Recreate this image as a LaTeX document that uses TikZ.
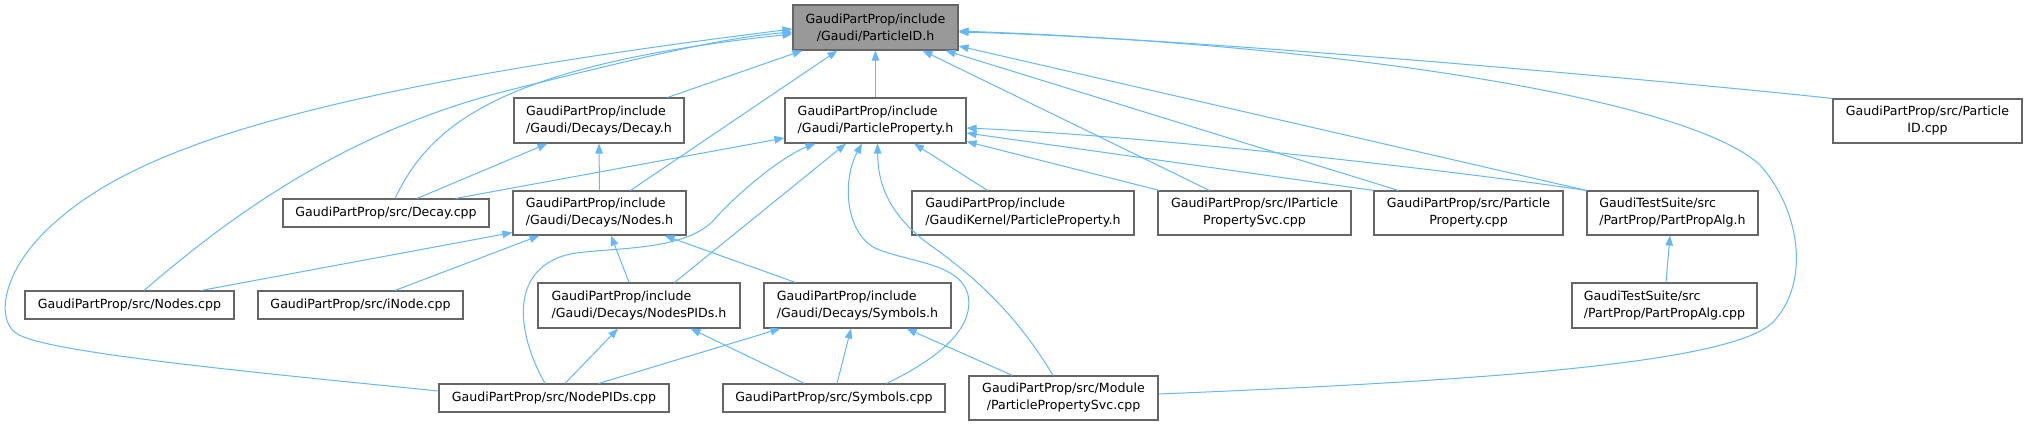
\documentclass[tikz,border=0pt]{standalone}
\usepackage{fontspec}
\setmainfont{DejaVu Sans}
\usetikzlibrary{arrows.meta}
\definecolor{edgec}{HTML}{63B8FF}
\definecolor{boxborder}{HTML}{666666}
\definecolor{rootfill}{HTML}{999999}
\begin{document}
\begin{tikzpicture}[x=1pt,y=-1pt,
  box/.style={draw=boxborder, line width=1.1pt, fill=white, inner sep=0pt, text=black,
    font=\fontsize{12.6}{17}\selectfont},
  root/.style={box, fill=rootfill},
  edge/.style={draw=edgec, line width=1pt, -{Triangle[length=10pt,width=7.5pt]}}]
\useasboundingbox[fill=white] (0,0) rectangle (2027,426);
% nodes
\node[root,align=center,minimum width=165pt,minimum height=45pt] (pid) at (875.5,27.5) {GaudiPartProp/include\\/Gaudi/ParticleID.h};
\node[box,align=left,minimum width=181pt,minimum height=45pt] (pph) at (875.5,120.5) {GaudiPartProp/include\\/Gaudi/ParticleProperty.h};
\node[box,align=left,minimum width=170pt,minimum height=45pt] (dech) at (599,120.5) {GaudiPartProp/include\\/Gaudi/Decays/Decay.h};
\node[box,align=center,minimum width=189pt,minimum height=44pt] (pidcpp) at (1927.5,121) {GaudiPartProp/src/Particle\\ID.cpp};
\node[box,minimum width=206pt,minimum height=28pt] (deccpp) at (386,213) {GaudiPartProp/src/Decay.cpp};
\node[box,align=left,minimum width=173pt,minimum height=44pt] (nodesh) at (599.5,213) {GaudiPartProp/include\\/Gaudi/Decays/Nodes.h};
\node[box,align=left,minimum width=222pt,minimum height=44pt] (gkpp) at (1023,213) {GaudiPartProp/include\\/GaudiKernel/ParticleProperty.h};
\node[box,align=center,minimum width=193pt,minimum height=44pt] (ipps) at (1254.5,213) {GaudiPartProp/src/IParticle\\PropertySvc.cpp};
\node[box,align=center,minimum width=189pt,minimum height=44pt] (ppcpp) at (1468.5,213) {GaudiPartProp/src/Particle\\Property.cpp};
\node[box,align=left,minimum width=171pt,minimum height=44pt] (ppah) at (1672.5,213) {GaudiTestSuite/src\\/PartProp/PartPropAlg.h};
\node[box,minimum width=209pt,minimum height=28pt] (nodescpp) at (129.5,305) {GaudiPartProp/src/Nodes.cpp};
\node[box,minimum width=205pt,minimum height=28pt] (inode) at (360.5,305) {GaudiPartProp/src/iNode.cpp};
\node[box,align=left,minimum width=202pt,minimum height=45pt] (npidsh) at (639,305.5) {GaudiPartProp/include\\/Gaudi/Decays/NodesPIDs.h};
\node[box,align=left,minimum width=187pt,minimum height=45pt] (symh) at (857.5,305.5) {GaudiPartProp/include\\/Gaudi/Decays/Symbols.h};
\node[box,align=left,minimum width=185pt,minimum height=45pt] (ppacpp) at (1664.5,305.5) {GaudiTestSuite/src\\/PartProp/PartPropAlg.cpp};
\node[box,minimum width=230pt,minimum height=28pt] (npcpp) at (554,398) {GaudiPartProp/src/NodePIDs.cpp};
\node[box,minimum width=222pt,minimum height=28pt] (symcpp) at (834,398) {GaudiPartProp/src/Symbols.cpp};
\node[box,align=center,minimum width=189pt,minimum height=44pt] (modcpp) at (1063.5,398) {GaudiPartProp/src/Module\\/ParticlePropertySvc.cpp};
% edges into ParticleID.h
\draw[edge] (pidcpp.north west) .. controls (1700,84) and (1200,38) .. ([yshift=-4.5pt]pid.east);
\draw[edge] (ppah.north west) -- ([yshift=-18.5pt]pid.east);
\draw[edge] ([xshift=25pt]ppcpp.north west) -- ([xshift=-13pt]pid.south east);
\draw[edge] ([xshift=52pt]ipps.north west) -- ([xshift=-36pt]pid.south east);
\draw[edge] ([yshift=4pt]modcpp.east) .. controls (1500,380) and (1740,362) .. (1775,320) .. controls (1810,280) and (1800,210) .. (1760,165) .. controls (1690,100) and (1350,45) .. ([yshift=-3.5pt]pid.east);
\draw[edge] ([xshift=14.5pt]nodescpp.north) .. controls (235,212) and (350,130) .. (510,90) .. controls (630,60) and (720,38) .. ([yshift=-4.5pt]pid.west);
\draw[edge] ([yshift=7pt]npcpp.west) .. controls (250,372) and (40,352) .. (16,333) .. controls (-4,320) and (0,268) .. (60,218) .. controls (140,150) and (300,90) .. ([yshift=-1.5pt]pid.west);
\draw[edge] ([xshift=9pt]deccpp.north) .. controls (430,125) and (500,65) .. ([yshift=-6.5pt]pid.west);
\draw[edge] ([xshift=-17pt]dech.north east) -- ([xshift=10pt]pid.south west);
\draw[edge] ([xshift=118pt]nodesh.north west) -- ([xshift=45pt]pid.south west);
\draw[edge] (pph.north) -- (pid.south);
% edges into ParticleProperty.h
\draw[edge] ([xshift=-34pt]deccpp.north east) -- ([yshift=-17.5pt]pph.west);
\draw[edge] ([xshift=-9pt]npcpp.north) .. controls (515,330) and (510,268) .. (570,254) .. controls (610,247) and (680,252) .. (712,222) .. controls (740,190) and (785,155) .. ([xshift=-60pt]pph.south);
\draw[edge] ([xshift=-66pt]npidsh.north east) -- ([xshift=-29.5pt]pph.south);
\draw[edge] ([xshift=-59pt]symcpp.north east) .. controls (935,360) and (975,330) .. (968,295) .. controls (960,262) and (905,262) .. (875,248) .. controls (845,232) and (842,180) .. ([xshift=-13.5pt]pph.south);
\draw[edge] ([xshift=-10.5pt]modcpp.north) .. controls (1020,320) and (980,280) .. (930,245) .. controls (885,212) and (878,180) .. ([xshift=2pt]pph.south);
\draw[edge] ([xshift=76pt]gkpp.north west) -- ([xshift=38.5pt]pph.south);
\draw[edge] ([xshift=2pt]ipps.north west) -- ([yshift=2pt]pph.south east);
\draw[edge] (ppcpp.north west) -- ([yshift=-12.5pt]pph.east);
\draw[edge] (ppah.north west) .. controls (1450,170) and (1150,136) .. ([yshift=-7.5pt]pph.east);
% edges into Decay.h
\draw[edge] ([xshift=31pt]deccpp.north) -- ([xshift=34pt]dech.south west);
\draw[edge] (nodesh.north) -- (dech.south);
% edges into Nodes.h
\draw[edge] ([xshift=71.5pt]nodescpp.north) -- ([yshift=3pt]nodesh.south west);
\draw[edge] ([xshift=34.5pt]inode.north) -- ([xshift=27pt]nodesh.south west);
\draw[edge] ([xshift=-10pt]npidsh.north) -- ([xshift=11.5pt]nodesh.south);
\draw[edge] ([xshift=32pt]symh.north west) -- ([xshift=-22pt]nodesh.south east);
% edges into NodesPIDs.h
\draw[edge] ([xshift=11pt]npcpp.north) -- ([xshift=-21pt]npidsh.south);
\draw[edge] ([xshift=82pt]symcpp.north west) -- ([xshift=-50pt]npidsh.south east);
% edges into Symbols.h
\draw[edge] ([xshift=-71pt]npcpp.north east) -- ([xshift=17pt]symh.south west);
\draw[edge] ([xshift=3pt]symcpp.north) -- ([xshift=-6.5pt]symh.south);
\draw[edge] ([xshift=44pt]modcpp.north west) -- ([xshift=-45pt]symh.south east);
% edge into PartPropAlg.h
\draw[edge] ([xshift=1.5pt]ppacpp.north) -- ([xshift=-2.5pt]ppah.south);
\end{tikzpicture}
\end{document}
